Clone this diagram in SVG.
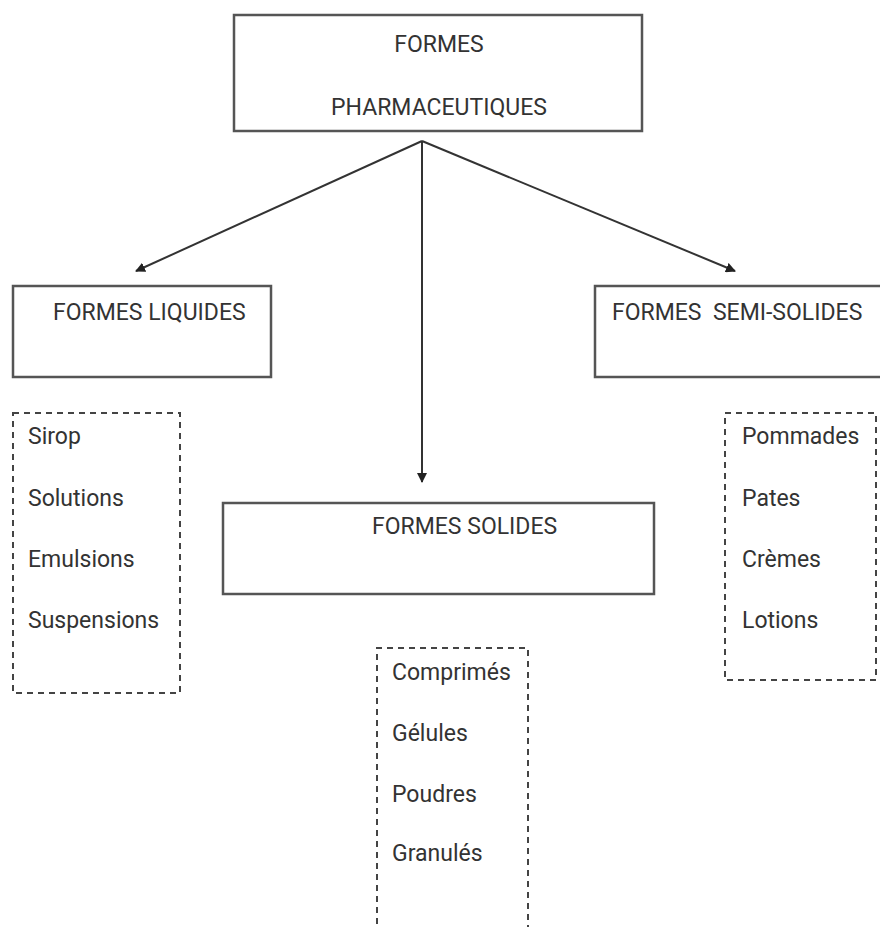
<svg xmlns="http://www.w3.org/2000/svg" width="880" height="927" viewBox="0 0 880 927">
<defs>
<marker id="ah" viewBox="0 0 10 10" refX="9" refY="5" markerWidth="5" markerHeight="5" orient="auto" markerUnits="strokeWidth">
<path d="M0,0 L10,5 L0,10 z" fill="#222"/>
</marker>
<style>
.box{fill:#fff;stroke:#555;stroke-width:2.5}
.dash{fill:none;stroke:#444;stroke-width:2;stroke-dasharray:6,5}
.t{font-family:Roboto,"Liberation Sans",sans-serif;font-size:23px;fill:#333}
.c{stroke:#333;stroke-width:2;fill:none;marker-end:url(#ah)}
</style>
</defs>
<rect width="880" height="927" fill="#fff"/>
<g id="connectors">
<line class="c" x1="422" y1="141" x2="136" y2="271"/>
<line class="c" x1="422" y1="141" x2="422" y2="482"/>
<line class="c" x1="422" y1="141" x2="735" y2="271"/>
</g>
<g id="root">
<rect class="box" x="234" y="15" width="408" height="116"/>
<text class="t" x="439" y="52" text-anchor="middle">FORMES</text>
<text class="t" x="439" y="115" text-anchor="middle">PHARMACEUTIQUES</text>
</g>
<g id="liquides">
<rect class="box" x="13" y="286" width="258" height="91"/>
<text class="t" x="53" y="320">FORMES LIQUIDES</text>
</g>
<g id="liquides-list">
<rect class="dash" x="13" y="413" width="167" height="280"/>
<text class="t" x="28" y="444">Sirop</text>
<text class="t" x="28" y="506">Solutions</text>
<text class="t" x="28" y="567">Emulsions</text>
<text class="t" x="28" y="628">Suspensions</text>
</g>
<g id="semisolides">
<rect class="box" x="595" y="286" width="300" height="91"/>
<text class="t" x="612" y="320" xml:space="preserve">FORMES  SEMI-SOLIDES</text>
</g>
<g id="semisolides-list">
<rect class="dash" x="725" y="413" width="151" height="267"/>
<text class="t" x="742" y="444">Pommades</text>
<text class="t" x="742" y="506">Pates</text>
<text class="t" x="742" y="567">Crèmes</text>
<text class="t" x="742" y="628">Lotions</text>
</g>
<g id="solides">
<rect class="box" x="223" y="503" width="431" height="91"/>
<text class="t" x="372" y="534">FORMES SOLIDES</text>
</g>
<g id="solides-list">
<path class="dash" d="M377,935 L377,648 L528,648 L528,935"/>
<text class="t" x="392" y="680">Comprimés</text>
<text class="t" x="392" y="741">Gélules</text>
<text class="t" x="392" y="802">Poudres</text>
<text class="t" x="392" y="861">Granulés</text>
</g>
</svg>
